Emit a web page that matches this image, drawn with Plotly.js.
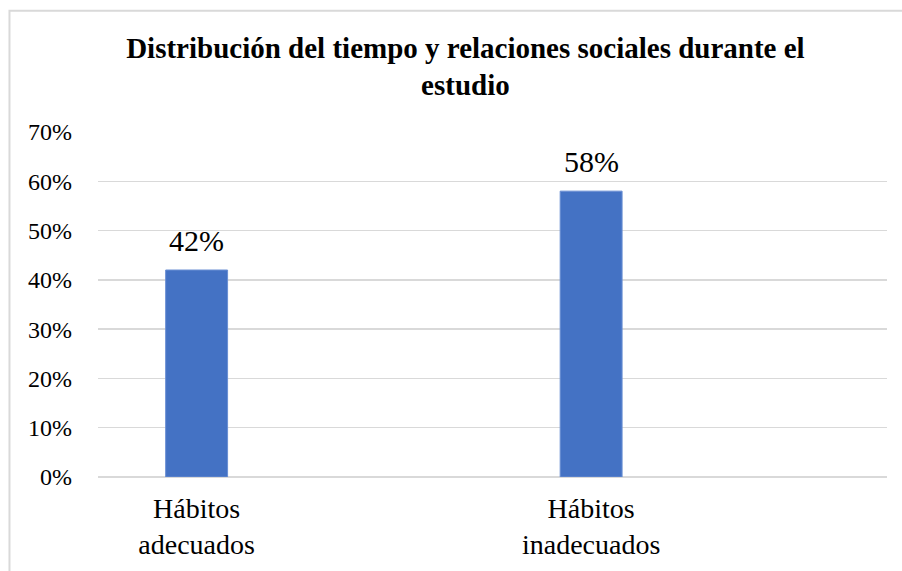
<!DOCTYPE html>
<html>
<head>
<meta charset="utf-8">
<script src="https://cdn.plot.ly/plotly-3.0.1.min.js"></script>
<style>html,body{margin:0;padding:0;background:#fff;}#chart{width:902px;height:571px;}</style>
</head>
<body>
<div id="chart"></div>
<script>
const categories = ['Hábitos adecuados', 'Hábitos inadecuados'];
const tickLabels = ['Hábitos<br>adecuados', 'Hábitos<br>inadecuados'];
const values = [0.42, 0.58];
const spacers = ['sp1', 'sp2'];
const yTicks = [0, 0.1, 0.2, 0.3, 0.4, 0.5, 0.6, 0.7];
const titleText = 'Distribución del tiempo y relaciones sociales durante el<br>estudio';

const FONT = 'Liberation Serif';
const GRID = '#d9d9d9';

const trace = {
  type: 'bar',
  x: categories,
  y: values,
  width: 0.314,
  marker: {color: '#4472C4', line: {color: '#6a8fd3', width: 1}},
  hoverinfo: 'none'
};

const annotations = categories.map((c, i) => ({
  x: c, y: values[i], xref: 'x', yref: 'y',
  text: Math.round(values[i] * 100) + '%',
  showarrow: false, yanchor: 'bottom', yshift: 11,
  font: {family: FONT, size: 30, color: '#000000'}
}));

const layout = {
  width: 902, height: 571,
  margin: {l: 98, r: 15, t: 132, b: 94, pad: 0},
  paper_bgcolor: '#ffffff', plot_bgcolor: '#ffffff',
  showlegend: false,
  font: {family: FONT, color: '#000000'},
  title: {
    text: titleText,
    font: {family: FONT, size: 29, weight: 'bold', color: '#000000'},
    xref: 'container', x: 0.516, xanchor: 'center',
    yref: 'container', y: 0.899, yanchor: 'top'
  },
  xaxis: {
    type: 'category',
    categoryorder: 'array',
    categoryarray: [categories[0], spacers[0], categories[1], spacers[1]],
    range: [-0.5, 3.5],
    tickmode: 'array', tickvals: categories, ticktext: tickLabels,
    showgrid: false, showline: false, zeroline: false, ticks: '',
    tickfont: {family: FONT, size: 28, color: '#000000'},
    ticklabelstandoff: 12,
    fixedrange: true
  },
  yaxis: {
    range: [0, 0.7],
    tickmode: 'array', tickvals: yTicks,
    tickformat: '.0%',
    showgrid: true, gridcolor: GRID, gridwidth: 1.3,
    zeroline: true, zerolinecolor: GRID, zerolinewidth: 1.3,
    showline: false, ticks: '',
    tickfont: {family: FONT, size: 24, color: '#000000'},
    ticklabelstandoff: 25,
    fixedrange: true
  },
  annotations: annotations,
  shapes: [
    {type: 'rect', xref: 'paper', yref: 'paper', x0: -0.1122, x1: 1.2, y0: -0.5, y1: 1.3515,
     line: {color: GRID, width: 2}, fillcolor: 'rgba(0,0,0,0)', layer: 'below'}
  ]
};

Plotly.newPlot('chart', [trace], layout, {displayModeBar: false, staticPlot: true});
</script>
</body>
</html>
